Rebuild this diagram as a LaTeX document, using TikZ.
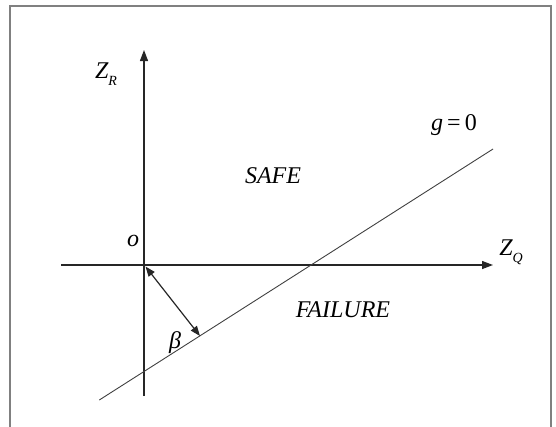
\documentclass[tikz,border=0pt]{standalone}
\usepackage{fontspec}
\setmainfont{Liberation Serif}
\usetikzlibrary{arrows.meta}
\tikzset{
  tip/.style={},
  axis/.style={line width=1.3pt, draw=black!85, -{Triangle[length=11pt,width=8pt]}},
  limit/.style={line width=0.9pt, draw=black!75},
  dist/.style={line width=1.2pt, draw=black!85, {Triangle[length=10pt,width=7.5pt]}-{Triangle[length=10pt,width=7.5pt]}},
  lbl/.style={font=\fontsize{24}{27}\selectfont\itshape, inner sep=0pt},
  frame/.style={draw=black!50, line width=1.8pt}
}
\newcommand{\subs}[1]{\raisebox{-0.3em}{\fontsize{14}{15}\selectfont\itshape #1}}
\begin{document}
\begin{tikzpicture}[x=1pt,y=-1pt]
\useasboundingbox (0,0) rectangle (556,426);
\draw[frame] (10,440) -- (10,6) -- (551,6) -- (551,440);
% coordinates
\coordinate (O) at (144,265);
\coordinate (vtop) at (144,50);
\coordinate (vbot) at (144,396);
\coordinate (hleft) at (61,265);
\coordinate (hright) at (493,265);
\coordinate (gstart) at (99.3,400);
\coordinate (gend) at (493,149);
\coordinate (foot) at (200,336);
% axes
\draw[axis] (vbot) -- (vtop);
\draw[axis] (hleft) -- (hright);
% limit state line
\draw[limit] (gstart) -- (gend);
% beta distance
\draw[dist] ([shift={(1.5,1.5)}]O) -- (foot);
% labels
\node[lbl] (zr) at (106,74) {Z\subs{R}};
\node[lbl] (zq) at (511,252) {Z\subs{Q}};
\node[lbl] (o) at (133,241) {o};
\node[lbl] (g) at (454,125) {g\,\upshape =\,0};
\node[lbl] (safe) at (273,176) {SAFE};
\node[lbl] (fail) at (343,310) {FAILURE};
\node[lbl] (beta) at (175,343) {β};
\end{tikzpicture}
\end{document}
